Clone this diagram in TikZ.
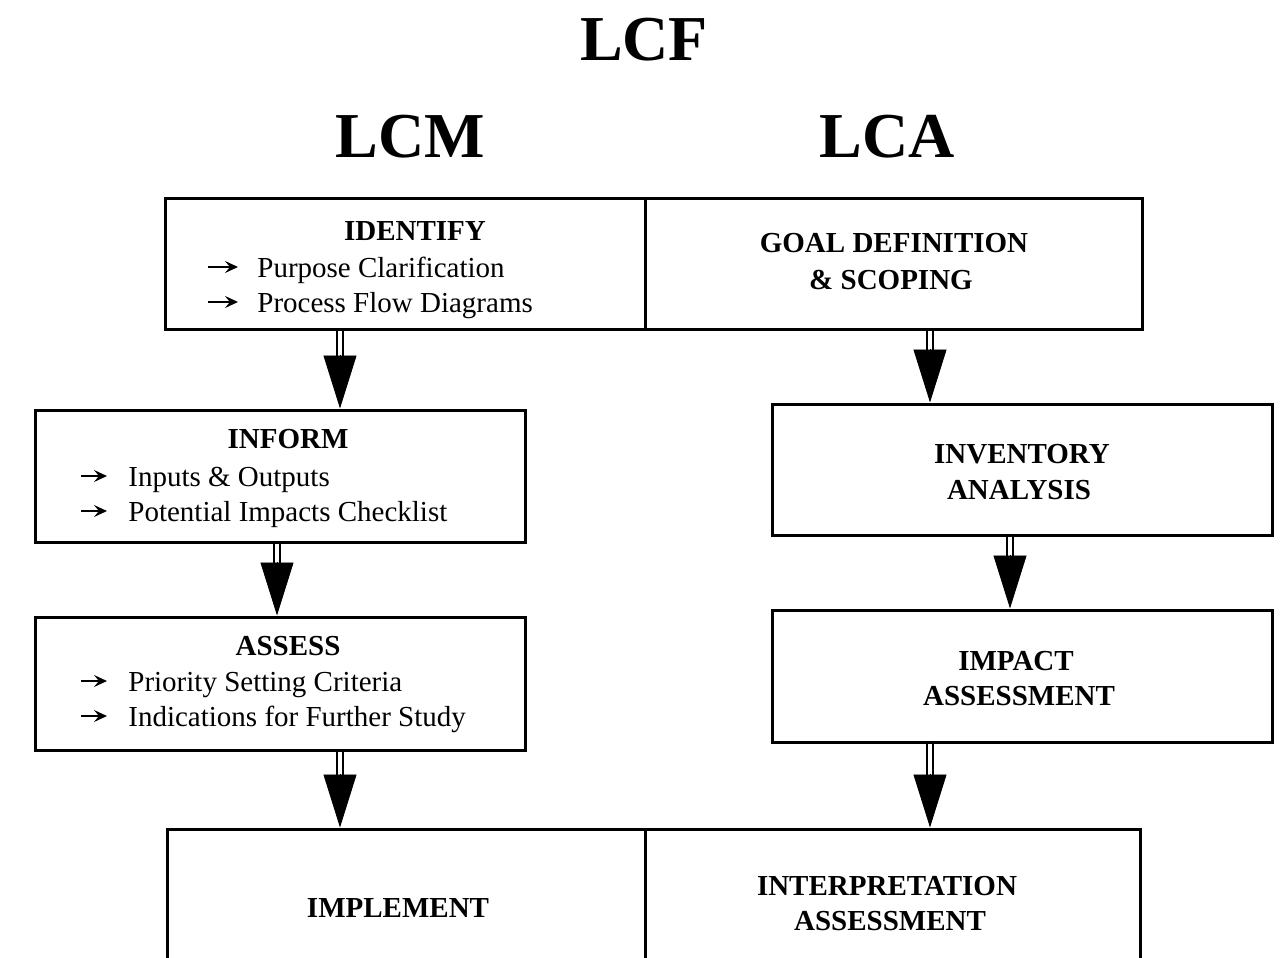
\documentclass[tikz,border=0pt]{standalone}
\usepackage{fontspec}
\setmainfont{Liberation Serif}
\usetikzlibrary{arrows.meta,fit}
% double-shafted flow arrow with a solid triangular head
\newcommand\flowconn[2]{%
  \draw[shaft] (#1) -- ([yshift=25pt]#2);
  \draw[head] ([yshift=27pt]#2) -- (#2);}
\begin{document}
\begin{tikzpicture}[x=0.5pt,y=-0.5pt,
  box/.style={draw, line width=1.5pt, inner sep=0pt},
  title/.style={font=\fontsize{32}{36}\selectfont\bfseries, anchor=base, inner sep=0pt},
  heading/.style={font=\fontsize{14.5}{17.5}\selectfont\bfseries, anchor=base, inner sep=0pt},
  item/.style={font=\fontsize{14.5}{17.5}\selectfont, anchor=base west, inner sep=0pt},
  bullet/.style={line width=0.8pt, -{Stealth[length=6.5pt,width=6pt,inset=2.5pt]}},
  shaft/.style={double, double distance=2pt, line width=0.95pt},
  head/.style={line width=0.4pt, -{Triangle[length=26.5pt,width=16.5pt]}}]
\useasboundingbox (0,0) rectangle (1280,958);

% titles
\node[title] (lcf) at (644,60) {LCF};
\node[title] (lcm) at (410,157) {LCM};
\node[title] (lca) at (887,157) {LCA};

% boxes
\node[box, fit={(165,198) (645,329)}] (idbox) {};
\node[box, fit={(645,198) (1142,329)}] (goalbox) {};
\node[box, fit={(35,410) (525,542)}] (inform) {};
\node[box, fit={(35,617) (525,750)}] (assess) {};
\node[box, fit={(772,404) (1272,535)}] (invbox) {};
\node[box, fit={(772,610) (1272,742)}] (impbox) {};
\node[box, fit={(167,829) (645,960)}] (implbox) {};
\node[box, fit={(645,829) (1140,960)}] (interpbox) {};

% LCM texts
\node[heading] (hid) at (415,240) {IDENTIFY};
\node[item] (id1) at (257,277) {Purpose Clarification};
\node[item] (id2) at (257,312) {Process Flow Diagrams};
\node[heading] (hinf) at (288,448) {INFORM};
\node[item] (in1) at (128,486) {Inputs \& Outputs};
\node[item] (in2) at (128,521) {Potential Impacts Checklist};
\node[heading] (hass) at (288,655) {ASSESS};
\node[item] (as1) at (128,691) {Priority Setting Criteria};
\node[item] (as2) at (128,726) {Indications for Further Study};
\node[heading] (himp) at (398,917) {IMPLEMENT};

% LCA texts
\node[heading] (g1) at (894,252) {GOAL DEFINITION};
\node[heading] (g2) at (891,289) {\& SCOPING};
\node[heading] (v1) at (1022,463) {INVENTORY};
\node[heading] (v2) at (1019,499) {ANALYSIS};
\node[heading] (m1) at (1016,670) {IMPACT};
\node[heading] (m2) at (1019,705) {ASSESSMENT};
\node[heading] (r1) at (887,895) {INTERPRETATION};
\node[heading] (r2) at (890,930) {ASSESSMENT};

% bullet arrows
\foreach \n in {id1,id2}
  \draw[bullet] ([xshift=-24.5pt,yshift=5pt]\n.base west) -- ([xshift=-9.5pt,yshift=5pt]\n.base west);
\foreach \n in {in1,in2,as1,as2}
  \draw[bullet] ([xshift=-23.5pt,yshift=5pt]\n.base west) -- ([xshift=-10.5pt,yshift=5pt]\n.base west);

% connector columns
\coordinate (xL) at (340,0);
\coordinate (xM) at (277,0);
\coordinate (xR) at (930,0);
\coordinate (xRR) at (1010,0);

% flow connectors
\flowconn{idbox.south -| xL}{inform.north -| xL}
\flowconn{inform.south -| xM}{assess.north -| xM}
\flowconn{assess.south -| xL}{implbox.north -| xL}
\flowconn{goalbox.south -| xR}{invbox.north -| xR}
\flowconn{invbox.south -| xRR}{impbox.north -| xRR}
\flowconn{impbox.south -| xR}{interpbox.north -| xR}
\end{tikzpicture}
\end{document}
